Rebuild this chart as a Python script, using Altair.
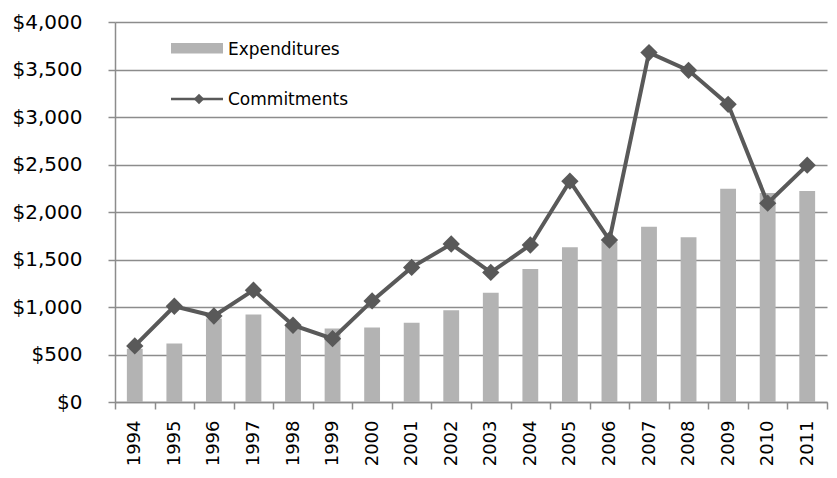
import altair as alt
import pandas as pd

years = ["1994", "1995", "1996", "1997", "1998", "1999", "2000", "2001", "2002",
         "2003", "2004", "2005", "2006", "2007", "2008", "2009", "2010", "2011"]
expenditures = [560, 615, 880, 920, 800, 775, 785, 835, 965,
                1150, 1400, 1630, 1690, 1845, 1735, 2245, 2200, 2220]
commitments = [590, 1008, 905, 1177, 808, 667, 1064, 1417, 1663,
               1364, 1653, 2325, 1705, 3678, 3491, 3133, 2093, 2493]
y_ticks = [0, 500, 1000, 1500, 2000, 2500, 3000, 3500, 4000]

df = pd.DataFrame({"year": years, "Expenditures": expenditures, "Commitments": commitments})

FONT = "DejaVu Sans"
GRID = "#8C8C8C"
BAR = "#B3B3B3"
LINE = "#595959"

x_enc = alt.X(
    "year:O", sort=years,
    scale=alt.Scale(paddingInner=0, paddingOuter=0),
    axis=alt.Axis(title=None, labelAngle=270, tickBand="extent", tickSize=7,
                  labelPadding=11, labelFontSize=18, domainColor=GRID,
                  tickColor=GRID, domainWidth=1.5, tickWidth=1.5, grid=False),
)
y_axis = alt.Axis(title=None, values=y_ticks, format="$,.0f", tickSize=7,
                  labelPadding=26, labelFontSize=20, domainColor=GRID,
                  tickColor=GRID, domainWidth=1.5, tickWidth=1.5,
                  grid=True, gridColor=GRID, gridWidth=1.3)

bars = alt.Chart(df).mark_bar(color=BAR, width=alt.RelativeBandSize(0.4)).encode(
    x=x_enc,
    y=alt.Y("Expenditures:Q", scale=alt.Scale(domain=[0, 4000]), axis=y_axis),
)

line = alt.Chart(df).mark_line(
    color=LINE, strokeWidth=4,
    point=alt.OverlayMarkDef(shape="diamond", size=300, filled=True, color=LINE, opacity=1),
).encode(
    x=alt.X("year:O", sort=years),
    y=alt.Y("Commitments:Q"),
)

one = pd.DataFrame({"k": [0]})
leg_rect = alt.Chart(one).mark_rect(color=BAR).encode(
    x=alt.value(56), x2=alt.value(108), y=alt.value(21), y2=alt.value(31.5))
leg_text1 = alt.Chart(one).mark_text(
    text="Expenditures", align="left", baseline="alphabetic", fontSize=17, font=FONT, color="black"
).encode(x=alt.value(113), y=alt.value(33))
leg_rule = alt.Chart(one).mark_rule(color=LINE, strokeWidth=2.5).encode(
    x=alt.value(56), x2=alt.value(108), y=alt.value(77))
leg_pt = alt.Chart(one).mark_point(shape="diamond", filled=True, size=110, color=LINE, opacity=1).encode(
    x=alt.value(84), y=alt.value(77))
leg_text2 = alt.Chart(one).mark_text(
    text="Commitments", align="left", baseline="alphabetic", fontSize=17, font=FONT, color="black"
).encode(x=alt.value(113), y=alt.value(83))

chart = alt.layer(bars, line, leg_rect, leg_text1, leg_rule, leg_pt, leg_text2).properties(
    width=712, height=380,
    padding={"left": 107, "top": 14, "right": 2, "bottom": 65},
    autosize="none",
).configure_view(stroke=None).configure_axis(
    labelFont=FONT, labelColor="black"
)

chart.save("out.html", embed_options={"renderer": "svg", "actions": False})
